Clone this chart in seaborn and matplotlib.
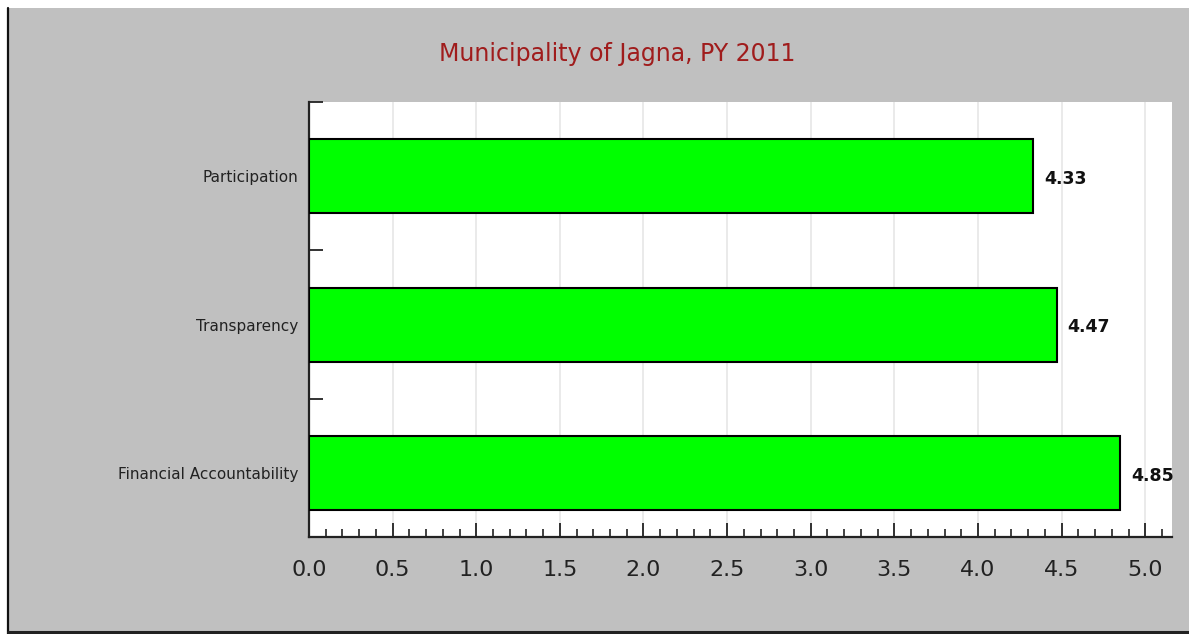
import pandas as pd
import matplotlib.pyplot as plt
from matplotlib.patches import Rectangle
from matplotlib.lines import Line2D
from matplotlib.ticker import MultipleLocator, FixedLocator
import seaborn as sns

# ---------------- Data ----------------
categories = ["Participation", "Transparency", "Financial Accountability"]
scores = [4.33, 4.47, 4.85]
title_text = "Municipality of Jagna, PY 2011"

df = pd.DataFrame({"Area": categories, "Score": scores})

# ---------------- Settings ----------------
sns.set_style("white")
plt.rcParams['font.family'] = ['DejaVu Sans']

W, H = 1189, 634
fig = plt.figure(figsize=(W / 100, H / 100), dpi=100)
fig.patch.set_facecolor('white')

# gray panel with dark left / bottom border
fig.patches.append(Rectangle((8 / W, 0), 1 - 8 / W, 1 - 8 / H, transform=fig.transFigure,
                             facecolor='#c0c0c0', edgecolor='none', zorder=-10))
fig.lines.append(Line2D([8 / W, 8 / W], [0, 1 - 8 / H], transform=fig.transFigure,
                        color='#111111', linewidth=1.6))
fig.lines.append(Line2D([8 / W, 1], [1.6 / H, 1.6 / H], transform=fig.transFigure,
                        color='#222222', linewidth=2.2))

ax = fig.add_axes([309 / W, 1 - 537 / H, (1172 - 309) / W, (537 - 102) / H])
ax.set_facecolor('white')

sns.barplot(data=df, x="Score", y="Area", order=categories, orient='h',
            color='#00ff00', edgecolor='black', linewidth=1.5, width=0.5,
            saturation=1, ax=ax, zorder=3)

ax.set_xlim(0, 5.16)
ax.set_ylim(2.43, -0.5)

# x ticks
ax.xaxis.set_major_locator(MultipleLocator(0.5))
ax.xaxis.set_minor_locator(MultipleLocator(0.1))
ax.tick_params(axis='x', which='major', direction='in', length=10, width=1.3,
               labelsize=16, pad=16.5, colors='#222222', bottom=True)
ax.tick_params(axis='x', which='minor', direction='in', length=6, width=1.2,
               color='#222222', bottom=True)
ax.set_xticklabels([f"{v:.1f}" for v in ax.get_xticks()])

# y ticks: labels at categories, tick marks between them
ax.yaxis.set_minor_locator(FixedLocator([-0.5, 0.5, 1.5]))
ax.tick_params(axis='y', which='major', length=0, labelsize=11, pad=8, colors='#222222')
ax.tick_params(axis='y', which='minor', direction='in', length=10, width=1.3,
               color='#222222', left=True)

ax.grid(axis='x', which='major', color='#e6e6e6', linewidth=1.2, zorder=0)
ax.set_axisbelow(True)

for side in ['top', 'right']:
    ax.spines[side].set_visible(False)
for side in ['left', 'bottom']:
    ax.spines[side].set_color('#222222')
    ax.spines[side].set_linewidth(1.6)

ax.set_xlabel("")
ax.set_ylabel("")

# value labels
for i, v in enumerate(scores):
    ax.annotate(f"{v:.2f}", xy=(v, i), xytext=(8, -2), textcoords='offset points',
                ha='left', va='center', fontsize=12.5, fontweight='bold', color='#111111')

fig.text(617.5 / W, 1 - 54 / H, title_text, ha='center', va='center',
         fontsize=17, color='#a01c1c')

plt.savefig("out.png", dpi=100)
